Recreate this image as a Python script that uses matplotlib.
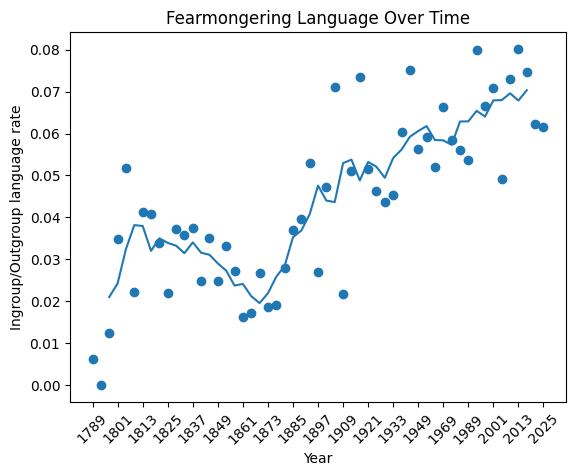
import pandas as pd
import matplotlib
matplotlib.use('Agg')
import matplotlib.pyplot as plt

# Años de los discursos (eje categórico)
years = [1789, 1793, 1797, 1801, 1805, 1809, 1813, 1817, 1821, 1825,
         1829, 1833, 1837, 1841, 1845, 1849, 1853, 1857, 1861, 1865,
         1869, 1873, 1877, 1881, 1885, 1889, 1893, 1897, 1901, 1905,
         1909, 1913, 1917, 1921, 1925, 1929, 1933, 1937, 1941, 1949,
         1953, 1961, 1969, 1973, 1981, 1989, 1993, 1997, 2001, 2005,
         2009, 2013, 2017, 2021, 2025]

# Tasa de lenguaje ingroup/outgroup por discurso
rate = [0.0061, 0.0000, 0.0124, 0.0348, 0.0517, 0.0222, 0.0412, 0.0408, 0.0338, 0.0220,
        0.0372, 0.0357, 0.0375, 0.0248, 0.0350, 0.0248, 0.0332, 0.0272, 0.0162, 0.0172,
        0.0267, 0.0186, 0.0190, 0.0279, 0.0369, 0.0396, 0.0529, 0.0270, 0.0473, 0.0711,
        0.0217, 0.0511, 0.0735, 0.0515, 0.0463, 0.0437, 0.0453, 0.0604, 0.0751, 0.0563,
        0.0591, 0.0521, 0.0663, 0.0584, 0.0560, 0.0537, 0.0799, 0.0666, 0.0709, 0.0492,
        0.0730, 0.0802, 0.0747, 0.0623, 0.0615]

data = pd.DataFrame({'year': years, 'rate': rate})
data['rolling'] = data['rate'].rolling(5, center=True).mean()
pos = list(range(len(data)))

plt.figure(figsize=(6.4, 4.8))
plt.scatter(pos, data['rate'])
plt.plot(pos, data['rolling'])

plt.title('Fearmongering Language Over Time')
plt.xlabel('Year')
plt.ylabel('Ingroup/Outgroup language rate')
plt.xticks(pos[::3], [str(y) for y in years[::3]], rotation=45)

plt.savefig('out.png', dpi=100, bbox_inches='tight')
